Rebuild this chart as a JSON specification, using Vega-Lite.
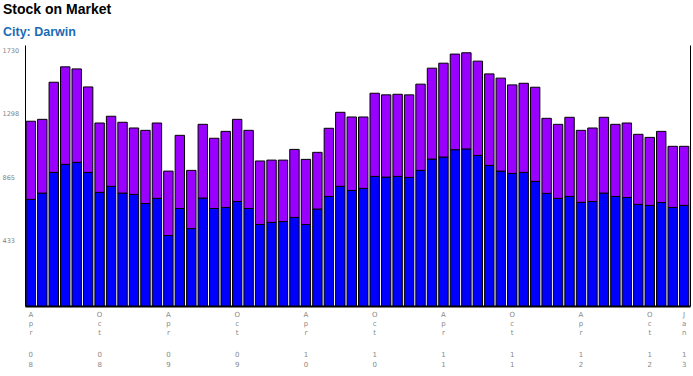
{
  "$schema": "https://vega.github.io/schema/vega-lite/v6.json",
  "width": 665,
  "height": 261,
  "autosize": "none",
  "padding": {"left": 25, "top": 45, "right": 3, "bottom": 70},
  "background": "white",
  "title": {
    "text": "Stock on Market",
    "subtitle": "City: Darwin",
    "anchor": "start",
    "frame": "group",
    "dx": -22,
    "offset": 7,
    "font": "Liberation Sans",
    "fontSize": 14,
    "fontWeight": "bold",
    "color": "black",
    "subtitleFont": "Liberation Sans",
    "subtitleFontSize": 12.5,
    "subtitleFontWeight": "bold",
    "subtitleColor": "#1a6bb5",
    "subtitlePadding": 9
  },
  "config": {"view": {"stroke": null}},
  "data": {
    "values": [
      {"month": "Apr 08", "Houses": 727, "Units": 533},
      {"month": "May 08", "Houses": 770, "Units": 503},
      {"month": "Jun 08", "Houses": 911, "Units": 615},
      {"month": "Jul 08", "Houses": 966, "Units": 665},
      {"month": "Aug 08", "Houses": 980, "Units": 637},
      {"month": "Sep 08", "Houses": 911, "Units": 583},
      {"month": "Oct 08", "Houses": 775, "Units": 473},
      {"month": "Nov 08", "Houses": 816, "Units": 478},
      {"month": "Dec 08", "Houses": 770, "Units": 483},
      {"month": "Jan 09", "Houses": 761, "Units": 453},
      {"month": "Feb 09", "Houses": 699, "Units": 499},
      {"month": "Mar 09", "Houses": 734, "Units": 514},
      {"month": "Apr 09", "Houses": 481, "Units": 439},
      {"month": "May 09", "Houses": 665, "Units": 499},
      {"month": "Jun 09", "Houses": 528, "Units": 397},
      {"month": "Jul 09", "Houses": 736, "Units": 503},
      {"month": "Aug 09", "Houses": 665, "Units": 479},
      {"month": "Sep 09", "Houses": 672, "Units": 519},
      {"month": "Oct 09", "Houses": 713, "Units": 560},
      {"month": "Nov 09", "Houses": 665, "Units": 533},
      {"month": "Dec 09", "Houses": 556, "Units": 433},
      {"month": "Jan 10", "Houses": 570, "Units": 425},
      {"month": "Feb 10", "Houses": 576, "Units": 419},
      {"month": "Mar 10", "Houses": 604, "Units": 464},
      {"month": "Apr 10", "Houses": 556, "Units": 444},
      {"month": "May 10", "Houses": 661, "Units": 387},
      {"month": "Jun 10", "Houses": 747, "Units": 465},
      {"month": "Jul 10", "Houses": 816, "Units": 505},
      {"month": "Aug 10", "Houses": 788, "Units": 501},
      {"month": "Sep 10", "Houses": 802, "Units": 487},
      {"month": "Oct 10", "Houses": 884, "Units": 567},
      {"month": "Nov 10", "Houses": 879, "Units": 561},
      {"month": "Dec 10", "Houses": 884, "Units": 560},
      {"month": "Jan 11", "Houses": 877, "Units": 563},
      {"month": "Feb 11", "Houses": 925, "Units": 588},
      {"month": "Mar 11", "Houses": 1002, "Units": 620},
      {"month": "Apr 11", "Houses": 1016, "Units": 640},
      {"month": "May 11", "Houses": 1066, "Units": 652},
      {"month": "Jun 11", "Houses": 1071, "Units": 656},
      {"month": "Jul 11", "Houses": 1027, "Units": 643},
      {"month": "Aug 11", "Houses": 959, "Units": 624},
      {"month": "Sep 11", "Houses": 920, "Units": 634},
      {"month": "Oct 11", "Houses": 904, "Units": 604},
      {"month": "Nov 11", "Houses": 911, "Units": 608},
      {"month": "Dec 11", "Houses": 850, "Units": 642},
      {"month": "Jan 12", "Houses": 768, "Units": 512},
      {"month": "Feb 12", "Houses": 734, "Units": 505},
      {"month": "Mar 12", "Houses": 747, "Units": 540},
      {"month": "Apr 12", "Houses": 707, "Units": 491},
      {"month": "May 12", "Houses": 713, "Units": 501},
      {"month": "Jun 12", "Houses": 770, "Units": 517},
      {"month": "Jul 12", "Houses": 747, "Units": 492},
      {"month": "Aug 12", "Houses": 740, "Units": 508},
      {"month": "Sep 12", "Houses": 693, "Units": 478},
      {"month": "Oct 12", "Houses": 686, "Units": 464},
      {"month": "Nov 12", "Houses": 706, "Units": 485},
      {"month": "Dec 12", "Houses": 672, "Units": 417},
      {"month": "Jan 13", "Houses": 686, "Units": 403}
    ]
  },
  "transform": [
    {"fold": ["Houses", "Units"], "as": ["type", "value"]}
  ],
  "layer": [
    {
      "mark": {"type": "bar", "stroke": "black", "strokeWidth": 1},
      "encoding": {
        "x": {
          "field": "month",
          "type": "ordinal",
          "sort": null,
          "scale": {"paddingInner": 0.18, "paddingOuter": 0.1},
          "axis": {
            "title": null,
            "values": ["Apr 08", "Oct 08", "Apr 09", "Oct 09", "Apr 10", "Oct 10", "Apr 11", "Oct 11", "Apr 12", "Oct 12", "Jan 13"],
            "labelExpr": "split(slice(datum.value, 0, 3), '')",
            "labelAngle": 0,
            "labelAlign": "center",
            "labelBaseline": "top",
            "labelPadding": 4,
            "labelLineHeight": 9.2,
            "labelFont": "DejaVu Sans",
            "labelFontSize": 7,
            "labelColor": "#888888",
            "labelOverlap": false,
            "ticks": false,
            "tickSize": 0,
            "domainColor": "black",
            "domainWidth": 2,
            "grid": false
          }
        },
        "y": {
          "field": "value",
          "type": "quantitative",
          "stack": "zero",
          "scale": {"domain": [0, 1780], "nice": false},
          "axis": {
            "title": null,
            "values": [433, 865, 1298, 1730],
            "format": "d",
            "labelAlign": "left",
            "labelBaseline": "alphabetic",
            "labelPadding": 23,
            "labelFont": "DejaVu Sans",
            "labelFontSize": 6.5,
            "labelColor": "#7f7f7f",
            "ticks": false,
            "tickSize": 0,
            "domainColor": "black",
            "domainWidth": 1,
            "grid": false
          }
        },
        "color": {
          "field": "type",
          "type": "nominal",
          "scale": {"domain": ["Houses", "Units"], "range": ["#0000ff", "#9900ff"]},
          "legend": null
        },
        "order": {"field": "type", "type": "nominal", "sort": "ascending"}
      }
    },
    {
      "mark": {"type": "bar", "opacity": 0},
      "encoding": {
        "x": {
          "field": "month",
          "type": "ordinal",
          "sort": null,
          "axis": {
            "orient": "bottom",
            "title": null,
            "values": ["Apr 08", "Oct 08", "Apr 09", "Oct 09", "Apr 10", "Oct 10", "Apr 11", "Oct 11", "Apr 12", "Oct 12", "Jan 13"],
            "labelExpr": "split(slice(datum.value, 4), '')",
            "labelAngle": 0,
            "labelAlign": "center",
            "labelBaseline": "top",
            "labelPadding": 44,
            "labelLineHeight": 10,
            "labelFont": "DejaVu Sans",
            "labelFontSize": 7,
            "labelColor": "#888888",
            "labelOverlap": false,
            "ticks": false,
            "tickSize": 0,
            "domain": false,
            "grid": false
          }
        },
        "y": {
          "field": "value",
          "type": "quantitative",
          "stack": "zero",
          "scale": {"domain": [0, 1780], "nice": false},
          "axis": {
            "orient": "right",
            "title": null,
            "labels": false,
            "ticks": false,
            "grid": false,
            "domainColor": "black",
            "domainWidth": 1
          }
        }
      }
    }
  ],
  "resolve": {"axis": {"y": "independent", "x": "independent"}}
}
